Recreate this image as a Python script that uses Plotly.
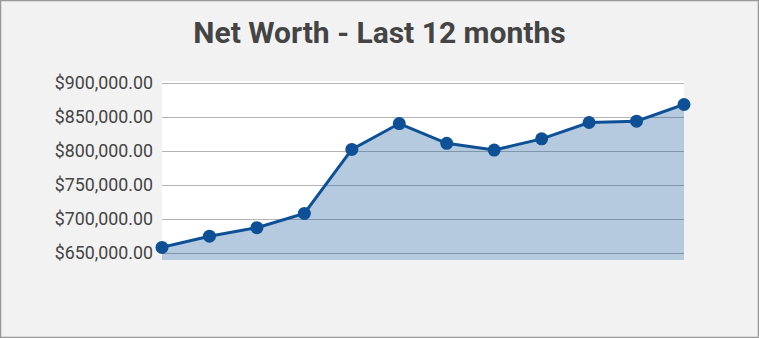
import plotly.graph_objects as go

months = ["Jan", "Feb", "Mar", "Apr", "May", "Jun", "Jul", "Aug", "Sep", "Oct", "Nov", "Dec"]
net_worth = [658500, 675000, 687500, 708500, 802500, 840500, 811500, 801500, 818000, 842000, 844000, 868500]
tick_values = [650000, 700000, 750000, 800000, 850000, 900000]
tick_labels = ["$650,000.00", "$700,000.00", "$750,000.00", "$800,000.00", "$850,000.00", "$900,000.00"]

W, H = 759, 338
L, R, T, B = 162, 75, 81, 78
pw, ph = W - L - R, H - T - B

fig = go.Figure()
fig.add_trace(go.Scatter(
    x=months, y=net_worth, mode="lines+markers",
    fill="tozeroy", fillcolor="rgba(13,79,150,0.30)",
    line=dict(color="#0d5096", width=3),
    marker=dict(color="#0d5096", size=13),
    cliponaxis=False,
    hoverinfo="x+y",
))

fig.update_layout(
    width=W, height=H,
    margin=dict(l=L, r=R, t=T, b=B, pad=0),
    paper_bgcolor="#f2f2f2",
    plot_bgcolor="#ffffff",
    showlegend=False,
    font=dict(family="Roboto, Arial, sans-serif", color="#444444"),
    title=dict(text="<b>Net Worth - Last 12 months</b>", x=0.5, xanchor="center",
               y=1 - 32 / H, yanchor="middle",
               font=dict(family="Roboto, Arial, sans-serif", size=30, color="#444444")),
    xaxis=dict(showticklabels=False, showgrid=False, zeroline=False, showline=False,
               range=[0, len(months) - 1], type="category", ticks=""),
    yaxis=dict(range=[640000, 903000], tickvals=tick_values, ticktext=tick_labels,
               showgrid=True, gridcolor="#b4b4b4", gridwidth=1, zeroline=False,
               showline=False, ticks="", ticklabelstandoff=8,
               tickfont=dict(family="Roboto, Arial, sans-serif", size=17.8, color="#444444")),
    shapes=[dict(type="rect", xref="paper", yref="paper", layer="above",
                 x0=(0.5 - L) / pw, x1=(W - 0.5 - L) / pw,
                 y0=(H - B - (H - 0.5)) / ph, y1=(H - B - 0.5) / ph,
                 line=dict(color="#999999", width=1.5), fillcolor="rgba(0,0,0,0)")],
)

fig.write_html("out.html")
